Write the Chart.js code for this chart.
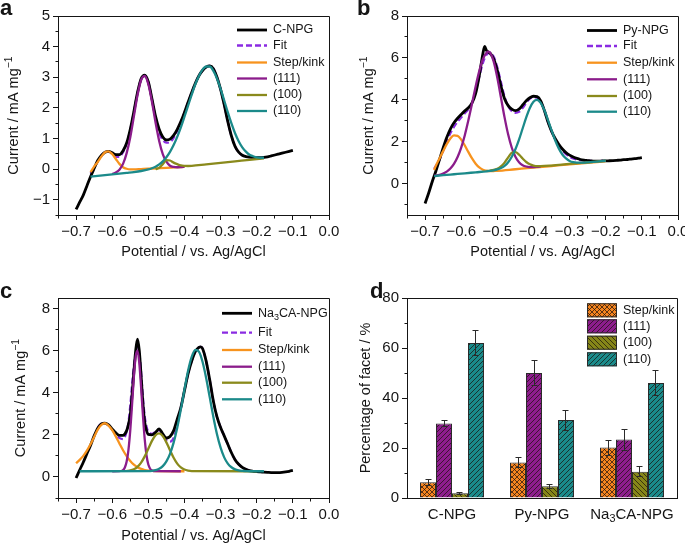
<!DOCTYPE html>
<html lang="en">

<head>
    <meta charset="UTF-8">
    <title>Facet fitting of Pb UPD curves</title>
    <script src="https://cdn.jsdelivr.net/npm/chart.js@4.4.0/dist/chart.umd.min.js"></script>
    <style>
        body { margin: 0; background: #fff; }
        #figure { position: relative; width: 685px; height: 544px; }
        .panel { position: absolute; }
    </style>
</head>

<body>
    <div id="figure">
        <div class="panel" style="left:0;top:0"><canvas id="chartA" width="342" height="272"></canvas></div>
        <div class="panel" style="left:342px;top:0"><canvas id="chartB" width="343" height="272"></canvas></div>
        <div class="panel" style="left:0;top:272px"><canvas id="chartC" width="342" height="272"></canvas></div>
        <div class="panel" style="left:342px;top:272px"><canvas id="chartD" width="343" height="272"></canvas></div>
    </div>
    <script>
        // ---------- data ----------
        const potentialGrid = [-0.70, -0.69, -0.68, -0.67, -0.66, -0.65, -0.64, -0.63, -0.62, -0.61, -0.60, -0.59, -0.58, -0.57, -0.56, -0.55, -0.54, -0.53, -0.52, -0.51, -0.50, -0.49, -0.48, -0.47, -0.46, -0.45, -0.44, -0.43, -0.42, -0.41, -0.40, -0.39, -0.38, -0.37, -0.36, -0.35, -0.34, -0.33, -0.32, -0.31, -0.30, -0.29, -0.28, -0.27, -0.26, -0.25, -0.24, -0.23, -0.22, -0.21, -0.20, -0.19, -0.18, -0.17, -0.16, -0.15, -0.14, -0.13, -0.12, -0.11, -0.10];
        const potentialTicks = [-0.7, -0.6, -0.5, -0.4, -0.3, -0.2, -0.1, 0.0];
        const potentialMinor = [-0.75, -0.65, -0.55, -0.45, -0.35, -0.25, -0.15, -0.05];

        const seriesNames = ['Fit', 'Step/kink', '(111)', '(100)', '(110)'];
        const facetNames = ['Step/kink', '(111)', '(100)', '(110)'];
        const sampleNames = ['C-NPG', 'Py-NPG', 'Na_{3}CA-NPG'];

        // (a) C-NPG
        const cnpgCurrent = [-1.32, -1.08, -0.85, -0.55, -0.25, 0.02, 0.28, 0.45, 0.55, 0.58, 0.53, 0.47, 0.47, 0.60, 0.85, 1.30, 1.88, 2.50, 2.95, 3.07, 2.85, 2.30, 1.72, 1.30, 1.05, 0.95, 0.98, 1.10, 1.30, 1.55, 1.85, 2.18, 2.50, 2.80, 3.05, 3.22, 3.33, 3.37, 3.28, 3.00, 2.60, 2.10, 1.55, 1.08, 0.74, 0.55, 0.45, 0.41, 0.39, 0.38, 0.37, 0.37, 0.38, 0.40, 0.43, 0.46, 0.49, 0.52, 0.55, 0.58, 0.61];
        const cnpgFitX = potentialGrid.slice(4, 53);
        const cnpgFit = [-0.15, 0.03, 0.26, 0.44, 0.54, 0.57, 0.50, 0.40, 0.40, 0.55, 0.83, 1.28, 1.87, 2.49, 2.94, 3.06, 2.84, 2.28, 1.68, 1.20, 0.95, 0.86, 0.88, 1.02, 1.25, 1.54, 1.85, 2.18, 2.50, 2.80, 3.05, 3.22, 3.33, 3.37, 3.28, 3.00, 2.60, 2.10, 1.55, 1.08, 0.74, 0.55, 0.45, 0.41, 0.39, 0.38, 0.37, 0.37, 0.38];
        const cnpgStepX = [-0.66, -0.65, -0.64, -0.63, -0.62, -0.61, -0.60, -0.59, -0.58, -0.57, -0.56, -0.55, -0.54, -0.52, -0.50, -0.45, -0.40];
        const cnpgStep = [-0.10, 0.08, 0.23, 0.41, 0.55, 0.58, 0.49, 0.33, 0.17, 0.06, 0.01, -0.01, -0.01, 0.00, 0.01, 0.04, 0.07];
        const cnpg111X = potentialGrid.slice(10, 31);
        const cnpg111 = [-0.16, -0.115, -0.02, 0.17, 0.52, 1.04, 1.72, 2.41, 2.91, 3.04, 2.77, 2.20, 1.52, 0.92, 0.49, 0.24, 0.11, 0.07, 0.06, 0.065, 0.075];
        const cnpg100X = [-0.48, -0.47, -0.46, -0.45, -0.44, -0.43, -0.42, -0.41, -0.40, -0.39, -0.38, -0.34, -0.30, -0.26, -0.22, -0.18];
        const cnpg100 = [0.00, 0.04, 0.16, 0.29, 0.28, 0.21, 0.16, 0.12, 0.105, 0.10, 0.105, 0.154, 0.203, 0.252, 0.30, 0.35];
        const cnpg110X = [-0.66, -0.64, -0.62, -0.60, -0.58, -0.56, -0.54, -0.52, -0.50, -0.49, -0.48, -0.47, -0.46, -0.45, -0.44, -0.43, -0.42, -0.41, -0.40, -0.39, -0.38, -0.37, -0.36, -0.35, -0.34, -0.33, -0.32, -0.31, -0.30, -0.29, -0.28, -0.27, -0.26, -0.25, -0.24, -0.23, -0.22, -0.21, -0.20, -0.19, -0.18];
        const cnpg110 = [-0.25, -0.225, -0.20, -0.175, -0.15, -0.124, -0.098, -0.063, -0.013, 0.026, 0.079, 0.152, 0.253, 0.388, 0.562, 0.783, 1.05, 1.36, 1.71, 2.07, 2.43, 2.77, 3.04, 3.25, 3.35, 3.35, 3.21, 2.96, 2.62, 2.24, 1.85, 1.49, 1.17, 0.91, 0.71, 0.57, 0.47, 0.42, 0.38, 0.37, 0.37];
        const cnpgTicks = [-1, 0, 1, 2, 3, 4, 5];
        const cnpgMinor = [-1.5, -0.5, 0.5, 1.5, 2.5, 3.5, 4.5];

        // (b) Py-NPG
        const pyX = [-0.70, -0.69, -0.68, -0.67, -0.66, -0.65, -0.64, -0.63, -0.62, -0.61, -0.60, -0.59, -0.58, -0.57, -0.56, -0.55, -0.54, -0.535, -0.53, -0.52, -0.51, -0.50, -0.49, -0.48, -0.47, -0.46, -0.45, -0.44, -0.43, -0.42, -0.41, -0.40, -0.39, -0.38, -0.37, -0.36, -0.35, -0.34, -0.33, -0.32, -0.31, -0.30, -0.29, -0.28, -0.27, -0.26, -0.25, -0.24, -0.23, -0.22, -0.21, -0.20, -0.19, -0.18, -0.17, -0.16, -0.15, -0.14, -0.13, -0.12, -0.11, -0.10];
        const pyCurrent = [-0.95, -0.45, 0.10, 0.60, 1.15, 1.70, 2.20, 2.60, 2.90, 3.12, 3.30, 3.47, 3.62, 3.85, 4.30, 5.15, 6.20, 6.55, 6.35, 6.22, 5.95, 5.40, 4.65, 4.05, 3.72, 3.55, 3.48, 3.55, 3.75, 3.95, 4.10, 4.17, 4.15, 3.95, 3.50, 2.95, 2.50, 2.15, 1.88, 1.65, 1.48, 1.36, 1.27, 1.20, 1.15, 1.12, 1.10, 1.08, 1.07, 1.07, 1.08, 1.08, 1.09, 1.10, 1.11, 1.12, 1.14, 1.15, 1.17, 1.19, 1.21, 1.24];
        const pyFitX = [-0.675].concat(potentialGrid.slice(3, 51));
        const pyFit = [0.70, 0.85, 1.15, 1.55, 2.00, 2.40, 2.70, 2.95, 3.15, 3.35, 3.55, 3.85, 4.40, 5.10, 5.75, 6.15, 6.25, 6.05, 5.55, 4.85, 4.15, 3.70, 3.45, 3.38, 3.42, 3.60, 3.85, 4.05, 4.12, 4.10, 3.92, 3.50, 2.95, 2.50, 2.13, 1.83, 1.58, 1.40, 1.28, 1.20, 1.15, 1.12, 1.10, 1.09, 1.08, 1.07, 1.07, 1.08, 1.08];
        const pyStepX = [-0.675].concat(potentialGrid.slice(3, 21), [-0.45, -0.40, -0.35, -0.30, -0.25, -0.20]);
        const pyStep = [0.65, 0.85, 1.20, 1.55, 1.88, 2.15, 2.30, 2.28, 2.10, 1.82, 1.50, 1.20, 0.95, 0.77, 0.66, 0.61, 0.59, 0.60, 0.61, 0.685, 0.76, 0.84, 0.92, 0.99, 1.07];
        const py111X = [-0.675, -0.67, -0.66, -0.65, -0.64, -0.63, -0.62, -0.61, -0.60, -0.59, -0.58, -0.57, -0.56, -0.55, -0.54, -0.53, -0.525, -0.52, -0.51, -0.50, -0.49, -0.48, -0.47, -0.46, -0.45, -0.44, -0.43, -0.42, -0.41, -0.40, -0.39, -0.38];
        const py111 = [0.38, 0.39, 0.42, 0.48, 0.57, 0.72, 0.94, 1.27, 1.72, 2.31, 3.03, 3.82, 4.64, 5.37, 5.94, 6.25, 6.30, 6.25, 5.82, 5.05, 4.11, 3.16, 2.34, 1.71, 1.28, 1.02, 0.88, 0.815, 0.79, 0.79, 0.80, 0.815];
        const py100X = [-0.53, -0.52, -0.51, -0.50, -0.49, -0.48, -0.47, -0.46, -0.45, -0.44, -0.43, -0.42, -0.41, -0.40, -0.39, -0.38, -0.35, -0.30, -0.25, -0.20];
        const py100 = [0.60, 0.62, 0.65, 0.71, 0.82, 1.00, 1.25, 1.47, 1.50, 1.38, 1.20, 1.03, 0.92, 0.86, 0.83, 0.83, 0.86, 0.94, 1.01, 1.08];
        const py110X = [-0.675, -0.65, -0.62, -0.59, -0.56, -0.53, -0.52, -0.51, -0.50, -0.49, -0.48, -0.47, -0.46, -0.45, -0.44, -0.43, -0.42, -0.41, -0.40, -0.39, -0.38, -0.37, -0.36, -0.35, -0.34, -0.33, -0.32, -0.31, -0.30, -0.29, -0.28, -0.27, -0.26, -0.25, -0.20];
        const py110 = [0.36, 0.40, 0.445, 0.49, 0.537, 0.583, 0.606, 0.634, 0.674, 0.74, 0.85, 1.02, 1.28, 1.64, 2.10, 2.63, 3.16, 3.61, 3.91, 4.00, 3.85, 3.51, 3.04, 2.54, 2.07, 1.68, 1.39, 1.20, 1.08, 1.02, 1.00, 1.00, 1.00, 1.015, 1.09];
        const pyTicks = [0, 2, 4, 6, 8];
        const pyMinor = [-1, 1, 3, 5, 7];

        // (c) Na3CA-NPG
        const naX = [-0.70, -0.69, -0.68, -0.67, -0.66, -0.65, -0.64, -0.63, -0.62, -0.61, -0.60, -0.59, -0.58, -0.57, -0.56, -0.555, -0.55, -0.545, -0.54, -0.535, -0.53, -0.525, -0.52, -0.515, -0.51, -0.505, -0.50, -0.49, -0.48, -0.47, -0.46, -0.45, -0.44, -0.43, -0.42, -0.41, -0.40, -0.39, -0.38, -0.37, -0.36, -0.355, -0.35, -0.34, -0.33, -0.32, -0.31, -0.30, -0.29, -0.28, -0.27, -0.26, -0.25, -0.24, -0.23, -0.22, -0.21, -0.20, -0.19, -0.18, -0.17, -0.16, -0.15, -0.14, -0.13, -0.12, -0.11, -0.10];
        const naCurrent = [-0.05, 0.33, 0.70, 1.10, 1.50, 1.95, 2.32, 2.52, 2.56, 2.47, 2.28, 2.10, 1.97, 1.98, 2.20, 2.50, 2.95, 3.90, 5.00, 6.00, 6.55, 6.00, 4.80, 3.50, 2.60, 2.20, 2.02, 2.00, 2.12, 2.28, 2.05, 1.85, 1.92, 2.20, 2.75, 3.30, 4.10, 4.90, 5.50, 5.95, 6.15, 6.18, 6.10, 5.50, 4.60, 3.60, 2.85, 2.35, 1.95, 1.55, 1.15, 0.82, 0.60, 0.45, 0.36, 0.30, 0.27, 0.25, 0.24, 0.23, 0.22, 0.21, 0.21, 0.21, 0.22, 0.24, 0.27, 0.31];
        const naFitX = [-0.64, -0.63, -0.62, -0.61, -0.60, -0.59, -0.58, -0.57, -0.565, -0.56, -0.555, -0.55, -0.545, -0.54, -0.535, -0.53, -0.525, -0.52, -0.515, -0.51, -0.505, -0.50, -0.49, -0.48, -0.47, -0.46, -0.45, -0.44, -0.43, -0.42, -0.41, -0.40, -0.39, -0.38, -0.37, -0.36, -0.355, -0.35, -0.34, -0.33, -0.32, -0.31, -0.30, -0.29, -0.28, -0.27, -0.26, -0.25, -0.24, -0.23, -0.22, -0.21, -0.20];
        const naFit = [2.36, 2.52, 2.54, 2.45, 2.25, 2.00, 1.85, 1.80, 1.90, 2.15, 2.60, 3.40, 4.40, 5.30, 5.90, 6.20, 5.90, 5.00, 3.80, 2.90, 2.40, 2.15, 2.05, 2.15, 2.22, 2.00, 1.75, 1.68, 1.85, 2.45, 3.30, 4.10, 4.90, 5.50, 5.95, 6.15, 6.18, 6.10, 5.50, 4.60, 3.60, 2.85, 2.35, 1.95, 1.55, 1.15, 0.82, 0.60, 0.45, 0.36, 0.30, 0.27, 0.25];
        const naStepX = potentialGrid.slice(0, 23).concat([-0.40]);
        const naStep = [0.65, 0.81, 1.00, 1.25, 1.55, 1.90, 2.25, 2.47, 2.55, 2.44, 2.22, 1.92, 1.59, 1.27, 0.99, 0.755, 0.58, 0.46, 0.38, 0.33, 0.30, 0.284, 0.277, 0.27];
        const na111X = [-0.60, -0.58, -0.57, -0.565, -0.56, -0.555, -0.55, -0.545, -0.54, -0.535, -0.53, -0.525, -0.52, -0.515, -0.51, -0.505, -0.50, -0.495, -0.49, -0.48, -0.41];
        const na111 = [0.27, 0.274, 0.33, 0.45, 0.73, 1.29, 2.21, 3.45, 4.76, 5.73, 6.00, 5.41, 4.25, 2.93, 1.79, 1.02, 0.59, 0.39, 0.31, 0.272, 0.27];
        const na100X = potentialGrid.slice(14, 33).concat([-0.20]);
        const na100 = [0.284, 0.309, 0.366, 0.482, 0.68, 0.976, 1.343, 1.712, 1.983, 2.07, 1.94, 1.643, 1.267, 0.91, 0.633, 0.452, 0.351, 0.302, 0.28, 0.27];
        const na110X = [-0.69, -0.50, -0.49, -0.48, -0.47, -0.46, -0.45, -0.44, -0.43, -0.42, -0.41, -0.40, -0.39, -0.38, -0.37, -0.36, -0.35, -0.34, -0.33, -0.32, -0.31, -0.30, -0.29, -0.28, -0.27, -0.26, -0.25, -0.24, -0.23, -0.22, -0.18];
        const na110 = [0.27, 0.28, 0.29, 0.32, 0.39, 0.515, 0.74, 1.10, 1.63, 2.34, 3.21, 4.15, 5.04, 5.70, 6.03, 5.95, 5.47, 4.70, 3.78, 2.85, 2.03, 1.39, 0.93, 0.63, 0.46, 0.36, 0.31, 0.29, 0.28, 0.27, 0.27];
        const naTicks = [0, 2, 4, 6, 8];
        const naMinor = [-1, 1, 3, 5, 7];

        // (d) facet percentages, mean and error
        const stepShare = [6.3, 14.2, 20.2];
        const stepErr = [1.2, 2.0, 3.0];
        const f111Share = [29.8, 50.0, 23.4];
        const f111Err = [1.1, 5.0, 4.2];
        const f100Share = [1.9, 4.7, 10.5];
        const f100Err = [0.5, 0.8, 2.0];
        const f110Share = [62.0, 31.2, 46.0];
        const f110Err = [5.0, 4.0, 5.0];
        const shareTicks = [0, 20, 40, 60, 80];
        const shareMinor = [10, 30, 50, 70];

        // ---------- styling ----------
        const INK = '#151515';
        const FONT = '"Liberation Sans", Arial, Helvetica, sans-serif';
        const TICK_PX = 15;
        const TITLE_PX = 14.5;
        const LEGEND_PX = 12.5;
        const C_DATA = '#000000';
        const C_FIT = '#8a2be2';
        const C_STEP = '#f7931e';
        const C_111 = '#8b1c8b';
        const C_100 = '#8a8a1c';
        const C_110 = '#1b8a8a';
        const FIT_DASH = [6, 3];
        const lineColors = [C_FIT, C_STEP, C_111, C_100, C_110];
        const barColors = ['#f5841f', '#8d1d8d', '#868619', '#1a8b8b'];
        const barHatch = ['cross', 'up', 'down', 'up'];

        Chart.defaults.font.family = FONT;
        Chart.defaults.font.size = TICK_PX;
        Chart.defaults.color = INK;

        function signed(v, digits) {
            return (v < 0 ? '\u2212' : '') + Math.abs(v).toFixed(digits);
        }

        function align(v) {
            return Math.round(v - 0.5) + 0.5;
        }

        // "mg^{-1}" and "Na_{3}" style markup -> [text, shift] pieces
        function richParts(text) {
            return text.split(/([_^]\{[^}]*\})/).filter(Boolean).map(s => {
                if (s[0] === '_' && s[1] === '{') return [s.slice(2, -1), -1];
                if (s[0] === '^' && s[1] === '{') return [s.slice(2, -1), 1];
                return [s, 0];
            });
        }

        function drawRich(ctx, text, x, y, size, how) {
            const parts = richParts(text);
            const small = size * 0.72;
            let width = 0;
            parts.forEach(p => {
                ctx.font = (p[1] ? small : size) + 'px ' + FONT;
                width += ctx.measureText(p[0]).width;
            });
            let cx = how === 'center' ? x - width / 2 : x;
            ctx.textAlign = 'left';
            ctx.textBaseline = 'middle';
            parts.forEach(p => {
                ctx.font = (p[1] ? small : size) + 'px ' + FONT;
                const dy = p[1] > 0 ? -size * 0.33 : (p[1] < 0 ? size * 0.3 : 0);
                ctx.fillText(p[0], cx, y + dy);
                cx += ctx.measureText(p[0]).width;
            });
        }

        // frame, minor ticks, titles, legend, panel letter, error bars
        function decor(cfg) {
            return {
                id: 'decor',
                afterDatasetsDraw(chart) {
                    if (!cfg.errors) return;
                    const ctx = chart.ctx;
                    const sy = chart.scales.y;
                    ctx.save();
                    ctx.strokeStyle = '#2b2b2b';
                    ctx.lineWidth = 1;
                    chart.data.datasets.forEach((ds, k) => {
                        chart.getDatasetMeta(k).data.forEach((bar, j) => {
                            const v = ds.data[j];
                            const e = cfg.errors[k][j];
                            const x = align(bar.x);
                            const top = align(sy.getPixelForValue(v + e));
                            const bot = align(sy.getPixelForValue(v - e));
                            ctx.beginPath();
                            ctx.moveTo(x, top); ctx.lineTo(x, bot);
                            ctx.moveTo(x - 3, top); ctx.lineTo(x + 3, top);
                            ctx.moveTo(x - 3, bot); ctx.lineTo(x + 3, bot);
                            ctx.stroke();
                        });
                    });
                    ctx.restore();
                },
                afterDraw(chart) {
                    const ctx = chart.ctx;
                    const area = chart.chartArea;
                    const sx = chart.scales.x;
                    const sy = chart.scales.y;
                    const L = align(area.left), R = align(area.right), T = align(area.top), B = align(area.bottom);
                    ctx.save();
                    ctx.strokeStyle = INK;
                    ctx.lineWidth = 1;
                    ctx.beginPath();
                    ctx.moveTo(L, T); ctx.lineTo(R, T); ctx.lineTo(R, B);
                    (cfg.xMinor || []).forEach(v => {
                        const p = align(sx.getPixelForValue(v));
                        ctx.moveTo(p, B); ctx.lineTo(p, B + 3);
                    });
                    (cfg.yMinor || []).forEach(v => {
                        const p = align(sy.getPixelForValue(v));
                        ctx.moveTo(L, p); ctx.lineTo(L - 3, p);
                    });
                    ctx.stroke();

                    ctx.fillStyle = INK;
                    if (cfg.xTitle) drawRich(ctx, cfg.xTitle, (area.left + area.right) / 2, cfg.xTitleY, TITLE_PX, 'center');
                    if (cfg.categories) {
                        cfg.categories.forEach((c, i) => drawRich(ctx, c, sx.getPixelForValue(i), cfg.catY, TICK_PX, 'center'));
                    }
                    ctx.save();
                    ctx.translate(cfg.yTitleX, (area.top + area.bottom) / 2);
                    ctx.rotate(-Math.PI / 2);
                    drawRich(ctx, cfg.yTitle, 0, 0, TITLE_PX, 'center');
                    ctx.restore();

                    const lg = cfg.legend;
                    lg.items.forEach((it, i) => {
                        const y = lg.rows[i];
                        if (it.fill) {
                            ctx.fillStyle = it.fill;
                            ctx.fillRect(lg.lineX, y - 7, 30, 14);
                            ctx.strokeStyle = '#2b2b2b';
                            ctx.lineWidth = 1;
                            ctx.strokeRect(lg.lineX + 0.5, y - 6.5, 29, 13);
                        } else {
                            ctx.strokeStyle = it.color;
                            ctx.lineWidth = it.width;
                            ctx.setLineDash(it.dash || []);
                            ctx.beginPath();
                            ctx.moveTo(lg.lineX, y); ctx.lineTo(lg.lineX + 30, y);
                            ctx.stroke();
                            ctx.setLineDash([]);
                        }
                        ctx.fillStyle = INK;
                        drawRich(ctx, it.text, lg.textX, y, LEGEND_PX, 'left');
                    });

                    ctx.font = 'bold 22px ' + FONT;
                    ctx.textAlign = 'left';
                    ctx.textBaseline = 'alphabetic';
                    ctx.fillText(cfg.tag, cfg.tagX, cfg.tagY);
                    ctx.restore();
                }
            };
        }

        function fixBox(size) {
            return function (scale) {
                if (scale.isHorizontal()) scale.height = size; else scale.width = size;
                scale.paddingLeft = scale.paddingRight = scale.paddingTop = scale.paddingBottom = 0;
            };
        }

        function axis(min, max, ticks, digits, box) {
            return {
                type: 'linear', min: min, max: max,
                afterBuildTicks: scale => { scale.ticks = ticks.map(v => ({ value: v })); },
                afterFit: fixBox(box),
                grid: { drawOnChartArea: false, drawTicks: true, tickLength: 5, tickColor: INK, tickWidth: 1 },
                border: { display: true, color: INK, width: 1 },
                ticks: { color: INK, font: { size: TICK_PX }, padding: 3, maxRotation: 0, autoSkip: false, callback: v => signed(v, digits) }
            };
        }

        function curve(xs, ys, color, width, order, dash) {
            return {
                data: xs.map((x, i) => ({ x: x, y: ys[i] })),
                borderColor: color, borderWidth: width, borderDash: dash || [],
                pointRadius: 0, fill: false, cubicInterpolationMode: 'monotone', order: order
            };
        }

        function curveLegend(sample) {
            return [{ text: sample, color: C_DATA, width: 2.8 }].concat(seriesNames.map((name, i) => ({
                text: name, color: lineColors[i], width: 2.3, dash: i === 0 ? FIT_DASH : null
            })));
        }

        function curveChart(id, p) {
            return new Chart(document.getElementById(id), {
                type: 'line',
                data: {
                    datasets: [
                        curve(p.fit[0], p.fit[1], C_FIT, 2.2, 6, FIT_DASH),
                        curve(p.data[0], p.data[1], C_DATA, 2.8, 5),
                        curve(p.step[0], p.step[1], C_STEP, 2.3, 4),
                        curve(p.f111[0], p.f111[1], C_111, 2.3, 3),
                        curve(p.f100[0], p.f100[1], C_100, 2.3, 2),
                        curve(p.f110[0], p.f110[1], C_110, 2.3, 1)
                    ]
                },
                options: {
                    responsive: false, animation: false, events: [], devicePixelRatio: 1,
                    layout: { padding: { left: 0, top: p.top, right: p.right, bottom: 0 } },
                    plugins: { legend: { display: false }, tooltip: { enabled: false } },
                    scales: {
                        x: axis(-0.75, 0, potentialTicks, 1, p.xBox),
                        y: axis(p.yMin, p.yMax, p.yTicks, 0, p.yBox)
                    }
                },
                plugins: [decor(p.decor)]
            });
        }

        const currentTitle = 'Current / mA mg^{\u22121}';
        const potentialTitle = 'Potential / vs. Ag/AgCl';

        curveChart('chartA', {
            data: [potentialGrid, cnpgCurrent], fit: [cnpgFitX, cnpgFit], step: [cnpgStepX, cnpgStep],
            f111: [cnpg111X, cnpg111], f100: [cnpg100X, cnpg100], f110: [cnpg110X, cnpg110],
            yMin: -1.5, yMax: 5, yTicks: cnpgTicks, top: 16, right: 13, xBox: 57, yBox: 58,
            decor: {
                tag: 'a', tagX: 0, tagY: 15, xMinor: potentialMinor, yMinor: cnpgMinor,
                xTitle: potentialTitle, xTitleY: 252, yTitle: currentTitle, yTitleX: 14,
                legend: { lineX: 237, textX: 273, rows: [30, 45.5, 62.5, 78.5, 95, 111], items: curveLegend('C-NPG') }
            }
        });

        curveChart('chartB', {
            data: [pyX, pyCurrent], fit: [pyFitX, pyFit], step: [pyStepX, pyStep],
            f111: [py111X, py111], f100: [py100X, py100], f110: [py110X, py110],
            yMin: -1.5, yMax: 8, yTicks: pyTicks, top: 16, right: 7, xBox: 57, yBox: 65,
            decor: {
                tag: 'b', tagX: 15, tagY: 15, xMinor: potentialMinor, yMinor: pyMinor,
                xTitle: potentialTitle, xTitleY: 252, yTitle: currentTitle, yTitleX: 27,
                legend: { lineX: 245, textX: 281, rows: [30.5, 46, 62.7, 79.3, 96, 111.7], items: curveLegend('Py-NPG') }
            }
        });

        curveChart('chartC', {
            data: [naX, naCurrent], fit: [naFitX, naFit], step: [naStepX, naStep],
            f111: [na111X, na111], f100: [na100X, na100], f110: [na110X, na110],
            yMin: -1, yMax: 8.5, yTicks: naTicks, top: 26, right: 13, xBox: 46, yBox: 58,
            decor: {
                tag: 'c', tagX: 0, tagY: 26, xMinor: potentialMinor, yMinor: naMinor,
                xTitle: potentialTitle, xTitleY: 264, yTitle: currentTitle, yTitleX: 21,
                legend: { lineX: 222, textX: 258, rows: [41.3, 60.7, 78, 94.7, 110.7, 127.3], items: curveLegend('Na_{3}CA-NPG') }
            }
        });

        // ---------- (d) hatched bars ----------
        const barCanvas = document.getElementById('chartD');
        const barCtx = barCanvas.getContext('2d');

        function hatch(color, kind) {
            const s = 5;
            const tile = document.createElement('canvas');
            tile.width = s; tile.height = s;
            const g = tile.getContext('2d');
            g.fillStyle = color;
            g.fillRect(0, 0, s, s);
            g.strokeStyle = 'rgba(25, 15, 10, 0.7)';
            g.lineWidth = 1;
            g.beginPath();
            if (kind !== 'down') {
                g.moveTo(-1, s + 1); g.lineTo(s + 1, -1);
                g.moveTo(-1, 1); g.lineTo(1, -1);
                g.moveTo(s - 1, s + 1); g.lineTo(s + 1, s - 1);
            }
            if (kind !== 'up') {
                g.moveTo(-1, -1); g.lineTo(s + 1, s + 1);
                g.moveTo(s - 1, -1); g.lineTo(s + 1, 1);
                g.moveTo(-1, s - 1); g.lineTo(1, s + 1);
            }
            g.stroke();
            return barCtx.createPattern(tile, 'repeat');
        }

        const barFills = barColors.map((c, k) => hatch(c, barHatch[k]));
        const shareValues = [stepShare, f111Share, f100Share, f110Share];
        const shareErrors = [stepErr, f111Err, f100Err, f110Err];

        new Chart(barCanvas, {
            type: 'bar',
            data: {
                labels: sampleNames,
                datasets: facetNames.map((name, k) => ({
                    label: name, data: shareValues[k], backgroundColor: barFills[k],
                    borderColor: '#2b2b2b', borderWidth: 1, categoryPercentage: 0.711, barPercentage: 1
                }))
            },
            options: {
                responsive: false, animation: false, events: [], devicePixelRatio: 1,
                layout: { padding: { left: 0, top: 26, right: 8, bottom: 0 } },
                plugins: { legend: { display: false }, tooltip: { enabled: false } },
                scales: {
                    x: {
                        type: 'category', offset: true,
                        afterFit: fixBox(46),
                        grid: { display: false },
                        border: { display: true, color: INK, width: 1 },
                        ticks: { display: false }
                    },
                    y: axis(0, 80, shareTicks, 0, 65)
                }
            },
            plugins: [decor({
                tag: 'd', tagX: 28, tagY: 26, yMinor: shareMinor, errors: shareErrors,
                categories: sampleNames, catY: 243,
                yTitle: 'Percentage of facet / %', yTitleX: 24,
                legend: {
                    lineX: 245, textX: 281, rows: [38.3, 54.3, 70.7, 87.3],
                    items: facetNames.map((name, k) => ({ text: name, fill: barFills[k] }))
                }
            })]
        });
    </script>
</body>

</html>
